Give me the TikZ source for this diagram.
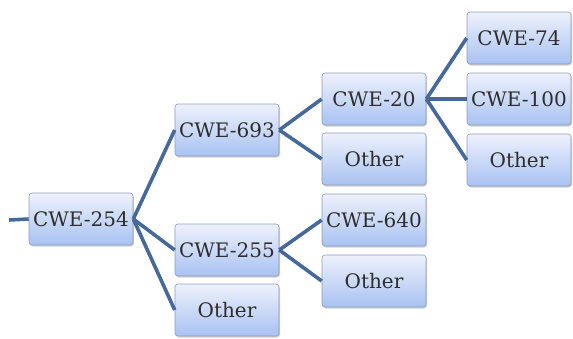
\documentclass[tikz,border=0pt]{standalone}
\usepackage{fontspec}
\setmainfont{DejaVu Serif}
\usetikzlibrary{shadows}
\definecolor{linkblue}{HTML}{44699A}
\definecolor{boxtop}{HTML}{EEF1FC}
\definecolor{boxbot}{HTML}{A8C2F2}
\definecolor{boxedge}{HTML}{8E9CB6}
\definecolor{txt}{HTML}{2E2E2E}
\tikzset{
  cwebox/.style={rectangle, rounded corners=3pt, draw=boxedge, line width=0.6pt,
    top color=boxtop, bottom color=boxbot,
    minimum width=104pt, minimum height=52pt, inner sep=0pt,
    text=txt, font=\fontsize{20}{24}\selectfont,
    drop shadow={shadow xshift=1pt, shadow yshift=-1.5pt, opacity=0.3, fill=black!60}},
  link/.style={draw=linkblue, line width=3.6pt}
}
\begin{document}
\begin{tikzpicture}[x=1pt,y=-1pt]
\useasboundingbox (0,0) rectangle (573,338);
\node[cwebox] (a) at (81,219) {CWE-254};
\node[cwebox] (b) at (227,130) {CWE-693};
\node[cwebox] (c) at (227,250) {CWE-255};
\node[cwebox] (d) at (227,310) {Other};
\node[cwebox] (e) at (374,99) {CWE-20};
\node[cwebox] (f) at (374,159) {Other};
\node[cwebox] (g) at (374,220) {CWE-640};
\node[cwebox] (h) at (374,281) {Other};
\node[cwebox] (i) at (519,38) {CWE-74};
\node[cwebox] (j) at (519,99) {CWE-100};
\node[cwebox] (k) at (519,160) {Other};
\coordinate (stub) at (9,220);
\draw[link] (stub) -- (a.west);
\draw[link] (a.east) -- (b.west);
\draw[link] (a.east) -- (c.west);
\draw[link] (a.east) -- (d.west);
\draw[link] (b.east) -- (e.west);
\draw[link] (b.east) -- (f.west);
\draw[link] (c.east) -- (g.west);
\draw[link] (c.east) -- (h.west);
\draw[link] (e.east) -- (i.west);
\draw[link] (e.east) -- (j.west);
\draw[link] (e.east) -- (k.west);
\end{tikzpicture}
\end{document}
